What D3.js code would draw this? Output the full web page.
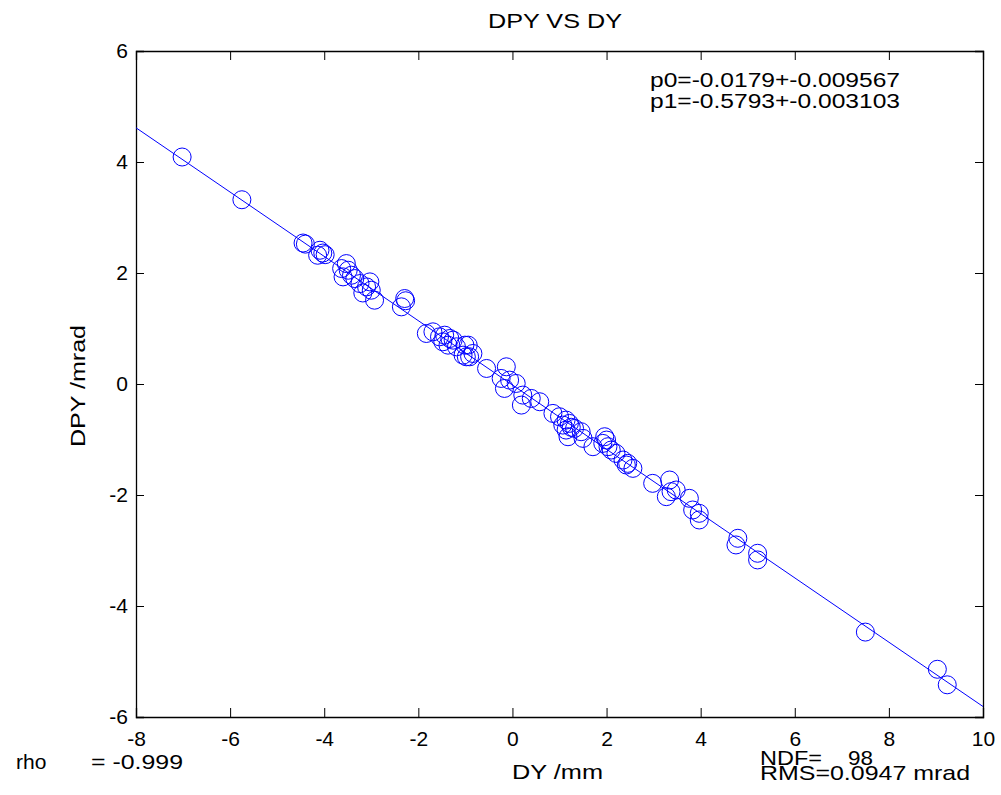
<!DOCTYPE html>
<html>
<head>
<meta charset="utf-8">
<script src="https://cdn.jsdelivr.net/npm/d3@7"></script>
<style>
    body { margin: 0; background: #fff; }
    text { font-family: "Liberation Sans", Arial, sans-serif; fill: #000; }
</style>
</head>
<body>
<svg id="fit-chart" width="1001" height="795"></svg>
<script>
// measured points (DY in mm, DPY in mrad)
var dyValues = [
    -7.02, -5.75, -4.45, -4.40, -4.09, -4.03, -4.14, -3.98,
    -3.53, -3.63, -3.49, -3.42, -3.60, -3.35, -3.24, -3.10, -3.00, -3.03, -2.93, -3.18,
    -2.29, -2.36, -2.27,
    -1.83, -1.69, -1.55, -1.44, -1.33, -1.48, -1.37, -1.26, -1.19, -1.01, -0.98, -0.84,
    -0.94, -0.91, -1.05,
    -0.55, -0.13, -0.24, -0.06, 0.08, -0.17, 0.22, 0.19, 0.58, 0.40,
    0.86, 1.00, 1.14, 1.07, 1.21, 1.14, 1.32, 1.46, 1.50, 1.18, 1.25,
    1.71, 1.96, 2.00, 1.92, 2.03, 2.10, 2.20, 2.35, 2.45, 2.56, 2.42,
    2.98, 3.34, 3.27, 3.37, 3.48,
    3.76, 3.83, 3.97, 3.97,
    4.79, 4.75, 5.21, 5.21,
    7.50, 9.03, 9.24
];
var dpyValues = [
    4.09, 3.32, 2.54, 2.52, 2.41, 2.36, 2.32, 2.33,
    2.17, 2.08, 2.05, 1.96, 1.93, 1.90, 1.81, 1.75, 1.69, 1.84, 1.51, 1.64,
    1.54, 1.39, 1.50,
    0.91, 0.94, 0.85, 0.88, 0.82, 0.76, 0.70, 0.79, 0.67, 0.70, 0.49, 0.55,
    0.70, 0.49, 0.52,
    0.28, 0.31, 0.10, 0.07, 0.01, -0.08, -0.20, -0.38, -0.32, -0.26,
    -0.53, -0.59, -0.65, -0.74, -0.71, -0.83, -0.80, -0.86, -0.98, -0.95, -0.78,
    -1.13, -0.95, -1.01, -1.07, -1.13, -1.19, -1.25, -1.37, -1.43, -1.52, -1.46,
    -1.79, -1.73, -2.03, -1.94, -1.91,
    -2.06, -2.27, -2.33, -2.45,
    -2.78, -2.90, -3.05, -3.17,
    -4.47, -5.14, -5.42
];
var xTicks = [-8, -6, -4, -2, 0, 2, 4, 6, 8, 10];
var yTicks = [-6, -4, -2, 0, 2, 4, 6];
var fitParams = [-0.0179, -0.5793];   // p0, p1
var statLines = ["p0=-0.0179+-0.009567", "p1=-0.5793+-0.003103"];

function fitChart(id) {
    var svg = d3.select("#" + id);
    svg.selectAll("*").remove();

    var margin = {top: 51, right: 18, bottom: 78, left: 136},
        width = +svg.attr("width") - margin.left - margin.right,
        height = +svg.attr("height") - margin.top - margin.bottom,
        g = svg.append("g").attr("transform", "translate(" + margin.left + "," + margin.top + ")");

    var x = d3.scaleLinear().domain([-8, 10]).range([0, width]),
        y = d3.scaleLinear().domain([-6, 6]).range([height, 0]);

    var points = dyValues.map(function (d, i) {
        return {dy: d, dpy: dpyValues[i]};
    });

    // plain hyphen, like the original
    var plain = function (d) { return String(d); };

    // inward ticks on all four sides
    var axisBottom = d3.axisBottom(x).tickValues(xTicks).tickSize(-9).tickPadding(14).tickFormat(plain);
    var axisTop = d3.axisTop(x).tickValues(xTicks).tickSize(-9).tickFormat("");
    var axisLeft = d3.axisLeft(y).tickValues(yTicks).tickSize(-8).tickPadding(8).tickFormat(plain);
    var axisRight = d3.axisRight(y).tickValues(yTicks).tickSize(-8).tickFormat("");

    function styleAxis(sel) {
        sel.select(".domain").attr("stroke", "#000").attr("stroke-width", 1.3);
        sel.selectAll(".tick line").attr("stroke", "#000").attr("stroke-width", 1);
        sel.selectAll(".tick text")
            .style("font-size", "21px")
            .attr("fill", "#000");
    }

    g.append("g").attr("transform", "translate(0," + height + ")").call(axisBottom).call(styleAxis);
    g.append("g").call(axisTop).call(styleAxis);
    g.append("g").call(axisLeft).call(styleAxis);
    g.append("g").attr("transform", "translate(" + width + ",0)").call(axisRight).call(styleAxis);

    // fit line
    var line = d3.line()
        .x(function (d) { return x(d); })
        .y(function (d) { return y(fitParams[0] + fitParams[1] * d); });

    g.append("path")
        .datum(x.domain())
        .attr("fill", "none")
        .attr("stroke", "#0000ff")
        .attr("stroke-width", 1)
        .attr("d", line);

    g.append("g")
        .selectAll("circle")
        .data(points)
        .enter().append("circle")
        .attr("cx", function (d) { return x(d.dy); })
        .attr("cy", function (d) { return y(d.dpy); })
        .attr("r", 9)
        .attr("fill", "none")
        .attr("stroke", "#0000ff")
        .attr("stroke-width", 1);

    // titles and labels
    svg.append("text")
        .attr("x", 555).attr("y", 28)
        .attr("text-anchor", "middle")
        .style("font-size", "20px")
        .attr("textLength", 134).attr("lengthAdjust", "spacingAndGlyphs")
        .text("DPY VS DY");

    svg.append("text")
        .attr("x", 512).attr("y", 779)
        .style("font-size", "21px")
        .attr("textLength", 91).attr("lengthAdjust", "spacingAndGlyphs")
        .text("DY /mm");

    svg.append("text")
        .attr("transform", "translate(85,386) rotate(-90)")
        .attr("text-anchor", "middle")
        .style("font-size", "21px")
        .attr("textLength", 122).attr("lengthAdjust", "spacingAndGlyphs")
        .text("DPY /mrad");

    svg.selectAll(".stat")
        .data(statLines)
        .enter().append("text")
        .attr("class", "stat")
        .attr("x", 650)
        .attr("y", function (d, i) { return 87 + i * 21; })
        .style("font-size", "20px")
        .attr("textLength", 250).attr("lengthAdjust", "spacingAndGlyphs")
        .text(function (d) { return d; });

    svg.append("text")
        .attr("x", 16).attr("y", 769)
        .style("font-size", "21px")
        .text("rho");
    svg.append("text")
        .attr("x", 91).attr("y", 769)
        .style("font-size", "21px")
        .attr("textLength", 92).attr("lengthAdjust", "spacingAndGlyphs")
        .text("= -0.999");

    svg.append("text")
        .attr("x", 760).attr("y", 765)
        .style("font-size", "21px")
        .attr("textLength", 62).attr("lengthAdjust", "spacingAndGlyphs")
        .text("NDF=");
    svg.append("text")
        .attr("x", 848).attr("y", 765)
        .style("font-size", "21px")
        .attr("textLength", 25).attr("lengthAdjust", "spacingAndGlyphs")
        .text("98");
    svg.append("text")
        .attr("x", 760).attr("y", 780)
        .style("font-size", "21px")
        .attr("textLength", 210).attr("lengthAdjust", "spacingAndGlyphs")
        .text("RMS=0.0947 mrad");
}

fitChart("fit-chart");
</script>
</body>
</html>
